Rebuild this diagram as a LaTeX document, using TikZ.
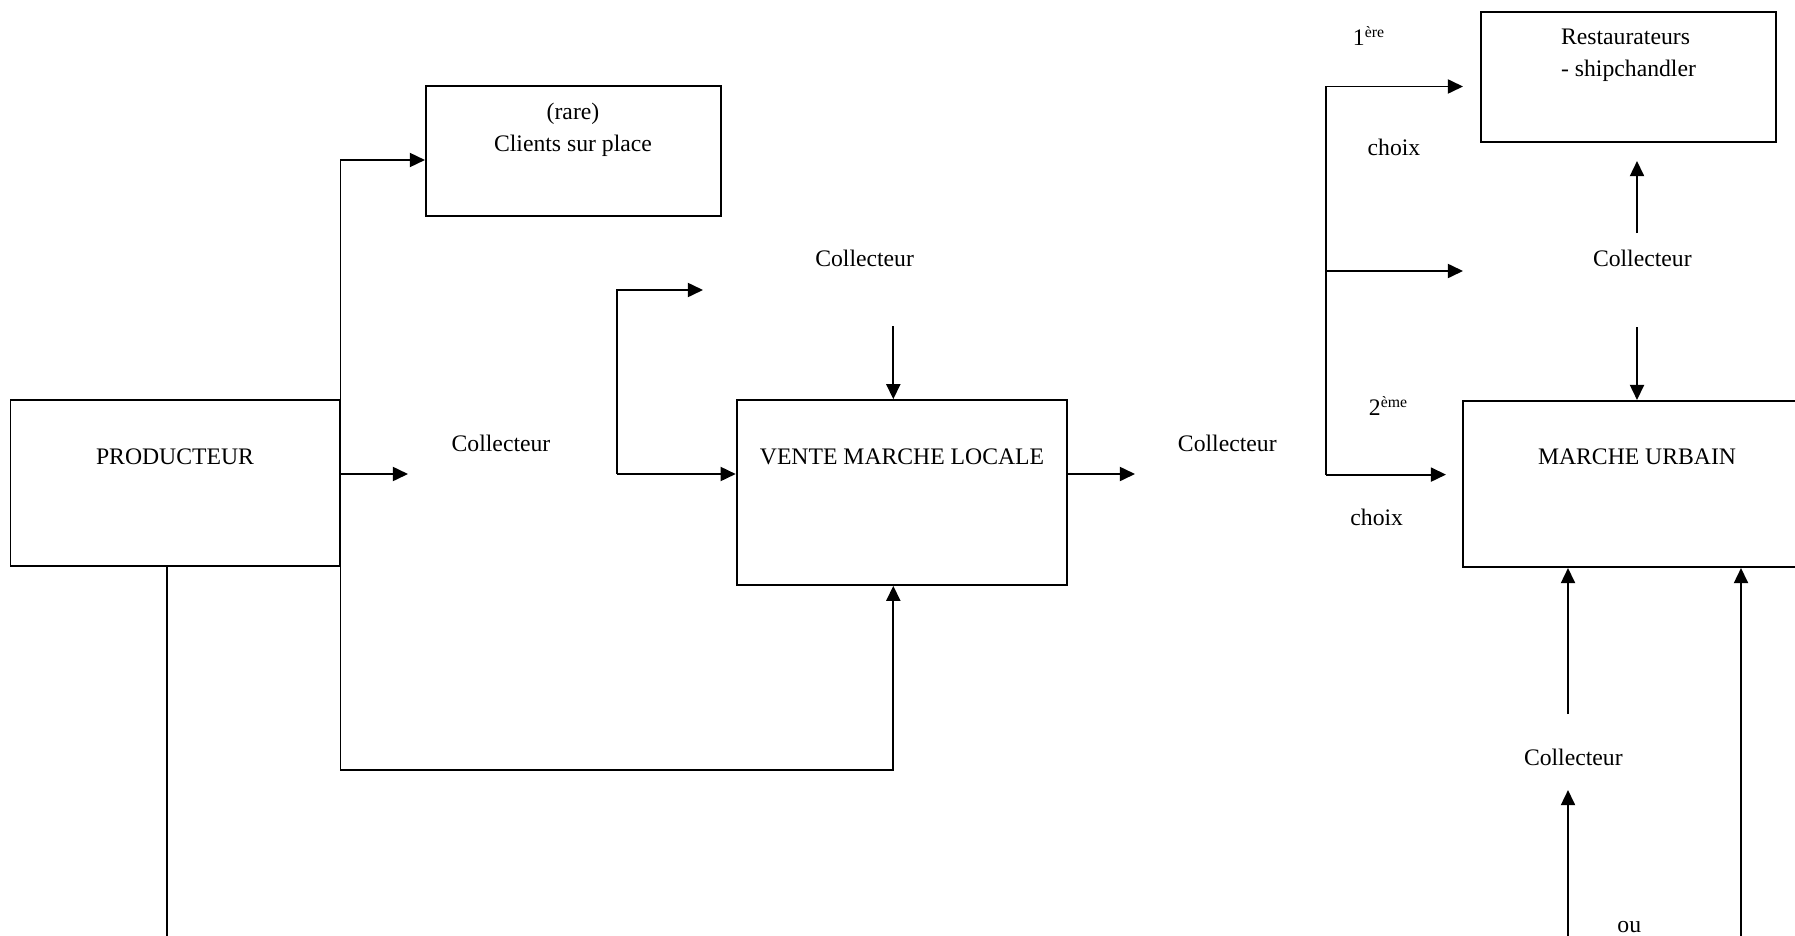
\documentclass[tikz,border=0pt]{standalone}
\usepackage{fontspec}
\setmainfont{Liberation Serif}
\usetikzlibrary{arrows.meta,positioning,calc}
\newdimen\pxu
\pxu=0.0178cm

\begin{document}
\begin{tikzpicture}[
    x=0.0178cm, y=-0.0178cm,
    every node/.style={font=\fontsize{12pt}{14.4pt}\selectfont},
    box/.style={rectangle, draw=black, line width=1pt, inner sep=0pt},
    arrow/.style={->, >={Triangle[length=2.7mm, width=2.5mm]}, line width=1pt},
    link/.style={line width=1pt}
]
\useasboundingbox (0,0) rectangle (1795,935);

% Boxes
\node[box, minimum width=329\pxu, minimum height=166\pxu] (prod) at (175,483.3) {};
\node[box, minimum width=294.7\pxu, minimum height=130\pxu] (clients) at (573.3,150.6) {};
\node[box, minimum width=330\pxu, minimum height=184.6\pxu] (vente) at (901.7,492.5) {};
\node[box, minimum width=295\pxu, minimum height=130\pxu] (resto) at (1628.2,77.1) {};
\node[box, minimum width=348\pxu, minimum height=166\pxu] (urbain) at (1637,484) {};

% Box texts
\node (tprod) at (175,457) {PRODUCTEUR};
\node[align=center] (tclients) at (573,129.5) {(rare)\\[1.8pt]Clients sur place};
\node (tvente) at (902,457) {VENTE MARCHE LOCALE};
\node[align=left] (tresto) at (1628.5,55.5) {Restaurateurs\\[1.8pt]- shipchandler};
\node (turbain) at (1637,457) {MARCHE URBAIN};

% Collecteurs
\node (coll1) at (501,443.4) {Collecteur};
\node (coll2) at (864.6,258.3) {Collecteur};
\node (coll3) at (1227.3,443.3) {Collecteur};
\node (coll4) at (1642.3,258.3) {Collecteur};
\node (coll5) at (1573.3,757.3) {Collecteur};

% Choices
\node (first) at (1369,36) {1\textsuperscript{ère}};
\node (choix1) at (1394,147.3) {choix};
\node (second) at (1388.5,406) {2\textsuperscript{ème}};
\node (choix2) at (1376.7,517.4) {choix};
\node (ou) at (1629.3,927) {ou};

% Points
\coordinate (a1) at (426,160);
\coordinate (a2) at (408,474);
\coordinate (a3) at (893.3,770);
\coordinate (pdown) at (167,945);
\coordinate (b1) at (617,290);
\coordinate (b2) at (703,290);
\coordinate (b3) at (617,474);
\coordinate (c2) at (893.3,326);
\coordinate (c3) at (1135,474);
\coordinate (r1) at (1326,86.5);
\coordinate (r2) at (1326,271);
\coordinate (r3) at (1326,474.6);
\coordinate (t1) at (1463,86.5);
\coordinate (t2) at (1463,271);
\coordinate (t3) at (1446,474.6);
\coordinate (u1) at (1637,233);
\coordinate (u2) at (1637,161);
\coordinate (d1) at (1637,327);
\coordinate (e1) at (1568,714);
\coordinate (e2) at (1568,945);
\coordinate (e3) at (1568,790);
\coordinate (e4) at (1741,945);

% Producteur links
\draw[arrow] (prod.east |- a3) -- (prod.east |- a1) -- (clients.west |- a1);
\draw[arrow] (prod.east |- a2) -- (a2);
\draw[arrow] (prod.east |- a3) -- (a3) -- (a3 |- vente.south);
\draw[link] (prod.south -| pdown) -- (pdown);

% Local market
\draw[arrow] (b3) -- (b1) -- (b2);
\draw[arrow] (b3) -- (vente.west |- b3);
\draw[arrow] (c2) -- (c2 |- vente.north);
\draw[arrow] (vente.east |- c3) -- (c3);

% Urban market
\draw[arrow] (r3) -- (r1) -- (t1);
\draw[arrow] (r2) -- (t2);
\draw[arrow] (r3) -- (t3);
\draw[arrow] (u1) -- (u2);
\draw[arrow] (d1) -- (urbain.north);
\draw[arrow] (e1) -- (e1 |- urbain.south);
\draw[arrow] (e2) -- (e3);
\draw[arrow] (e4) -- (e4 |- urbain.south);

\end{tikzpicture}
\end{document}
